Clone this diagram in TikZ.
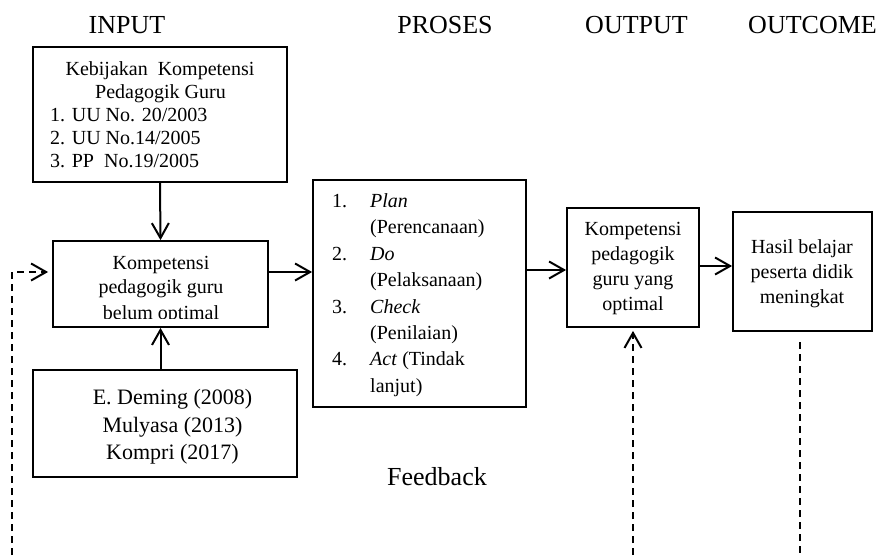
\documentclass[tikz,border=0pt]{standalone}
\usepackage{fontspec}
\setmainfont{Liberation Serif}
\usetikzlibrary{arrows.meta}
\begin{document}
\begin{tikzpicture}[x=1pt,y=-1pt,
  box/.style={draw, line width=1.8pt, inner sep=0pt},
  tx/.style={inner sep=0pt, font=\fontsize{20}{23}\selectfont},
  big/.style={inner sep=0pt, font=\fontsize{26}{30}\selectfont},
  mid/.style={inner sep=0pt, font=\fontsize{22}{26}\selectfont},
  arr/.style={line width=2pt, -{Straight Barb[length=15pt,width=17pt,line width=2pt]}},
  dsh/.style={line width=2pt, dash pattern=on 7pt off 5pt},
]
\useasboundingbox (0,0) rectangle (884,555);

% titles
\node[big, anchor=base] (tIn) at (127,33) {INPUT};
\node[big, anchor=base] (tPr) at (445,33) {PROSES};
\node[big, anchor=base] (tOu) at (636.5,33) {OUTPUT};
\node[big, anchor=base] (tOc) at (812.5,33) {OUTCOME};

% box 1: policy
\node[box, minimum width=254pt, minimum height=135pt] (b1) at (160,114.5) {};
\node[tx, anchor=base] (b1l1) at (160,75) {Kebijakan\ \ Kompetensi};
\node[tx, anchor=base] (b1l2) at (160.5,98) {Pedagogik Guru};
\node[tx, anchor=base west] (b1l3) at (50,121) {1. UU No. 20/2003};
\node[tx, anchor=base west] (b1l4) at (50,144) {2. UU No.14/2005};
\node[tx, anchor=base west] (b1l5) at (50,167) {3. PP\ \ No.19/2005};

% box 2: kompetensi belum optimal
\node[box, minimum width=215pt, minimum height=86pt] (b2) at (160.5,284) {};
\begin{scope}
  \clip (53,241) rectangle (268,318.5);
  \node[tx, anchor=base] (b2l1) at (161,269) {Kompetensi};
  \node[tx, anchor=base] (b2l2) at (161,293.5) {pedagogik guru};
  \node[tx, anchor=base] (b2l3) at (161,319.5) {belum optimal};
\end{scope}

% box 3: references
\node[box, minimum width=264pt, minimum height=107pt] (b3) at (165,423.5) {};
\node[mid, anchor=base] (b3l1) at (172.5,404) {E. Deming (2008)};
\node[mid, anchor=base] (b3l2) at (172.5,432) {Mulyasa (2013)};
\node[mid, anchor=base] (b3l3) at (172.5,459) {Kompri (2017)};

% PDCA box
\node[box, minimum width=213pt, minimum height=227pt] (pd) at (419.5,293.5) {};
\node[tx, anchor=base west] (pn1) at (332,207) {1.};
\node[tx, anchor=base west] (pt1) at (370,207) {\textit{Plan}};
\node[tx, anchor=base west] (pt1b) at (370,233.5) {(Perencanaan)};
\node[tx, anchor=base west] (pn2) at (332,260) {2.};
\node[tx, anchor=base west] (pt2) at (370,260) {\textit{Do}};
\node[tx, anchor=base west] (pt2b) at (370,286.5) {(Pelaksanaan)};
\node[tx, anchor=base west] (pn3) at (332,313) {3.};
\node[tx, anchor=base west] (pt3) at (370,313) {\textit{Check}};
\node[tx, anchor=base west] (pt3b) at (370,339) {(Penilaian)};
\node[tx, anchor=base west] (pn4) at (332,365.5) {4.};
\node[tx, anchor=base west] (pt4) at (370,365.5) {\textit{Act} (Tindak};
\node[tx, anchor=base west] (pt4b) at (370,392) {lanjut)};

% output box
\node[box, minimum width=132pt, minimum height=119pt] (ou) at (633,267.5) {};
\node[tx, anchor=base] (ou1) at (633,235) {Kompetensi};
\node[tx, anchor=base] (ou2) at (633,260) {pedagogik};
\node[tx, anchor=base] (ou3) at (633,285) {guru yang};
\node[tx, anchor=base] (ou4) at (633,310) {optimal};

% outcome box
\node[box, minimum width=139pt, minimum height=119pt] (oc) at (802.5,271.5) {};
\node[tx, anchor=base] (oc1) at (802,253) {Hasil belajar};
\node[tx, anchor=base] (oc2) at (802,278) {peserta didik};
\node[tx, anchor=base] (oc3) at (802,303) {meningkat};

% feedback label
\node[big, anchor=base] (fb) at (437,485) {Feedback};

% helper coordinates
\coordinate (y1) at (0,272);
\coordinate (y2) at (0,270);
\coordinate (y3) at (0,266);
\coordinate (fbL) at (12,555);
\coordinate (fbO) at (633,555);
\coordinate (fcT) at (800,342);
\coordinate (fcB) at (800,555);

% solid arrows
\draw[arr] (b1.south) -- (b2.north);
\draw[arr] (b3.north -| b2.south) -- (b2.south);
\draw[arr] (b2.east |- y1) -- (pd.west |- y1);
\draw[arr] (pd.east |- y2) -- (ou.west |- y2);
\draw[arr] (ou.east |- y3) -- (oc.west |- y3);

% dashed feedback lines
\draw[dsh, arr, shorten >=4pt] (fbL) |- (b2.west |- y1);
\draw[dsh, arr, shorten >=3pt] (fbO) -- (ou.south -| fbO);
\draw[dsh] (fcT) -- (fcB);
\end{tikzpicture}
\end{document}
